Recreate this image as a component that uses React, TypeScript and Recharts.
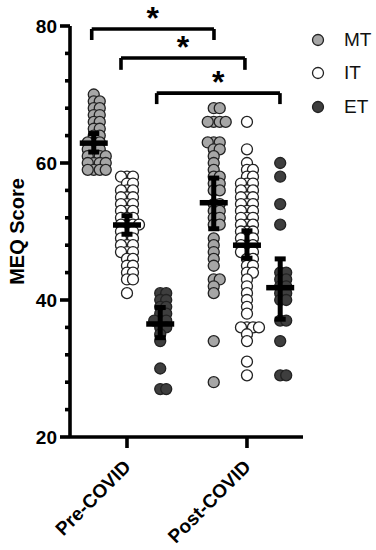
import React from "react";
import {
  ScatterChart,
  Scatter,
  XAxis,
  YAxis,
  ReferenceLine,
  Legend,
} from "recharts";

const periods = ["Pre-COVID", "Post-COVID"];
const groups = ["MT", "IT", "ET"];
const groupFill = ["#a6a6a6", "#ffffff", "#3e3e3e"];
const groupShift = [-0.277, 0, 0.277];

// MEQ scores
const preMT = [70, 69, 69, 68, 68, 67, 67, 66, 66, 65, 65, 64, 64, 63, 63, 63, 62, 62, 62, 61, 61, 61, 61, 60, 60, 60, 60, 59, 59, 59, 59];
const preIT = [58, 58, 58, 57, 57, 56, 56, 56, 55, 55, 55, 54, 54, 54, 53, 53, 53, 52, 52, 52, 51, 51, 51, 51, 50, 50, 50, 49, 49, 49, 48, 48, 48, 47, 47, 47, 46, 46, 45, 45, 44, 44, 43, 43, 41];
const preET = [41, 41, 40, 40, 39, 39, 38, 38, 37, 37, 37, 36, 36, 35, 34, 30, 27, 27];
const postMT = [68, 68, 66, 66, 66, 66, 63, 63, 63, 62, 62, 61, 60, 59, 58, 58, 57, 57, 56, 56, 54, 54, 53, 53, 52, 52, 51, 51, 49, 48, 47, 46, 45, 43, 43, 42, 41, 34, 28];
const postIT = [66, 62, 60, 59, 59, 58, 58, 57, 57, 57, 56, 56, 56, 55, 55, 55, 54, 54, 54, 53, 53, 53, 52, 52, 52, 51, 51, 51, 50, 50, 50, 49, 49, 49, 48, 48, 48, 47, 47, 47, 46, 46, 45, 45, 44, 44, 43, 42, 41, 40, 39, 38, 36, 36, 36, 36, 35, 34, 31, 29];
const postET = [60, 58, 54, 51, 44, 44, 43, 43, 42, 42, 41, 41, 40, 40, 37, 37, 34, 29, 29];

// mean and 95% CI per group
const meanPre = [62.9, 50.95, 36.5];
const meanPost = [54.2, 48.0, 41.8];
const ciLowPre = [61.6, 49.6, 34.5];
const ciHighPre = [64.3, 52.3, 38.9];
const ciLowPost = [50.4, 46.1, 37.2];
const ciHighPost = [57.8, 50.1, 46.0];

// significance brackets: x from, x to, bar y, leg end y
const bracketFrom = [0.706, 0.95, 1.2475];
const bracketTo = [1.725, 1.983, 2.275];
const bracketY = [79.56, 75.33, 70.2];
const bracketLeg = [77.96, 73.6, 68.6];

const scoreTicks = [20, 24, 28, 32, 36, 40, 44, 48, 52, 56, 60, 64, 68, 72, 76, 80];
const xDomain = [0.525, 2.467];
const yDomain = [20, 80];

const FONT = "'Liberation Sans', Arial, sans-serif";
const LINE_W = 3.6;
const PX_X = 120;
const PX_Y = 6.85;
const GAP = 6;

// simple beeswarm so dots with close values sit side by side
function swarm(values: number[], center: number) {
  const placed: { dx: number; py: number }[] = [];
  return values.map((v) => {
    const py = v * PX_Y;
    const near = placed.filter((p) => Math.abs(p.py - py) < GAP);
    const cands = [0];
    near.forEach((p) => {
      const h = Math.sqrt(GAP * GAP - (p.py - py) ** 2);
      cands.push(p.dx + h, p.dx - h);
    });
    cands.sort((a, b) => Math.abs(a) - Math.abs(b));
    const dx =
      cands.find((c) =>
        near.every((p) => (p.dx - c) ** 2 + (p.py - py) ** 2 >= GAP * GAP - 0.01)
      ) ?? 0;
    placed.push({ dx, py });
    return { x: center + dx / PX_X, y: v };
  });
}

const preData = [preMT, preIT, preET];
const postData = [postMT, postIT, postET];

const groupPoints = groups.map((g, i) => [
  ...swarm(preData[i], 1 + groupShift[i]),
  ...swarm(postData[i], 2 + groupShift[i]),
]);

const meanPoints = groups.flatMap((g, i) => [
  { x: 1 + groupShift[i], y: meanPre[i] },
  { x: 2 + groupShift[i], y: meanPost[i] },
]);

// one two-point series per CI whisker
const ciSeries = groups.flatMap((g, i) => [
  [
    { x: 1 + groupShift[i], y: ciLowPre[i] },
    { x: 1 + groupShift[i], y: ciHighPre[i] },
  ],
  [
    { x: 2 + groupShift[i], y: ciLowPost[i] },
    { x: 2 + groupShift[i], y: ciHighPost[i] },
  ],
]);

function ScoreTick(props: any) {
  const { x, y, payload } = props;
  const major = payload.value % 20 === 0;
  return (
    <g>
      <line x1={x - (major ? 10 : 5)} x2={x} y1={y} y2={y} stroke="#000" strokeWidth={LINE_W} />
      {major && (
        <text
          x={x - 13}
          y={y}
          dy={7}
          textAnchor="end"
          fontSize={19}
          fontWeight={700}
          fontFamily={FONT}
          fill="#000"
        >
          {payload.value}
        </text>
      )}
    </g>
  );
}

function PeriodTick(props: any) {
  const { x, y, payload } = props;
  const tx = x + 5;
  const ty = y + 31;
  return (
    <g>
      <line x1={x} x2={x} y1={y} y2={y + 11} stroke="#000" strokeWidth={LINE_W} />
      <text
        x={tx}
        y={ty}
        transform={`rotate(-45 ${tx} ${ty})`}
        textAnchor="end"
        fontSize={19}
        fontWeight={700}
        fontFamily={FONT}
        fill="#000"
      >
        {periods[payload.value - 1]}
      </text>
    </g>
  );
}

function LegendBox() {
  return (
    <div style={{ fontFamily: FONT }}>
      {groups.map((g, i) => (
        <div key={g} style={{ display: "flex", alignItems: "center", height: 33.5 }}>
          <svg width={24} height={14} style={{ marginLeft: 6 }}>
            <circle cx={7} cy={7} r={5.5} fill={groupFill[i]} stroke="#222" strokeWidth={1.3} />
          </svg>
          <span style={{ marginLeft: 9, fontSize: 19, color: "#111" }}>{g}</span>
        </div>
      ))}
    </div>
  );
}

const Dot = (fill: string) => (p: any) => (
  <circle cx={p.cx} cy={p.cy} r={5.5} fill={fill} stroke="#222" strokeWidth={1.3} />
);

const MeanBar = (p: any) => (
  <rect x={p.cx - 14} y={p.cy - 2.75} width={28} height={5.5} fill="#000" />
);

const Cap = (p: any) => (
  <rect x={p.cx - 5.5} y={p.cy - 2.5} width={11} height={5} fill="#000" />
);

export default function App() {
  return (
    <div style={{ width: 376, height: 550, fontFamily: FONT }}>
      <style>{"body{margin:0}"}</style>
      <ScatterChart width={376} height={550} margin={{ top: 26, right: 73, bottom: 0, left: 0 }}>
        <XAxis
          type="number"
          dataKey="x"
          domain={xDomain}
          ticks={[1, 2]}
          interval={0}
          height={113}
          tickSize={0}
          tickMargin={0}
          tickLine={false}
          tick={<PeriodTick />}
          axisLine={false}
        />
        <YAxis
          type="number"
          dataKey="y"
          domain={yDomain}
          ticks={scoreTicks}
          interval={0}
          width={70}
          tickSize={0}
          tickMargin={0}
          tickLine={false}
          tick={<ScoreTick />}
          axisLine={false}
          label={{
            value: "MEQ Score",
            angle: -90,
            position: "insideLeft",
            offset: 17,
            fontSize: 20,
            fontWeight: 700,
            fill: "#000",
            style: { textAnchor: "middle" },
          }}
        />
        {/* thick axis lines */}
        <ReferenceLine
          segment={[
            { x: xDomain[0], y: yDomain[0] },
            { x: xDomain[0], y: yDomain[1] },
          ]}
          stroke="#000"
          strokeWidth={LINE_W}
        />
        <ReferenceLine
          segment={[
            { x: xDomain[0], y: yDomain[0] },
            { x: xDomain[1], y: yDomain[0] },
          ]}
          stroke="#000"
          strokeWidth={LINE_W}
        />
        <Legend
          layout="vertical"
          align="center"
          verticalAlign="middle"
          wrapperStyle={{ left: 305, top: 23, width: 71, height: 101 }}
          content={() => <LegendBox />}
        />
        {groups.map((g, i) => (
          <Scatter
            key={g}
            name={g}
            data={groupPoints[i]}
            fill={groupFill[i]}
            shape={Dot(groupFill[i])}
            isAnimationActive={false}
          />
        ))}
        {ciSeries.map((d, k) => (
          <Scatter
            key={"ci" + k}
            data={d}
            line={{ stroke: "#000", strokeWidth: 5 }}
            lineType="joint"
            shape={Cap}
            legendType="none"
            isAnimationActive={false}
          />
        ))}
        <Scatter data={meanPoints} shape={MeanBar} legendType="none" isAnimationActive={false} />
        {groups.map((g, i) => (
          <ReferenceLine
            key={"b" + i}
            segment={[
              { x: bracketFrom[i], y: bracketY[i] },
              { x: bracketTo[i], y: bracketY[i] },
            ]}
            stroke="#000"
            strokeWidth={LINE_W}
            label={{ value: "*", position: "top", offset: 0, fontSize: 32, fontWeight: 700, fill: "#000" }}
          />
        ))}
        {groups.map((g, i) => (
          <ReferenceLine
            key={"l" + i}
            segment={[
              { x: bracketFrom[i], y: bracketY[i] },
              { x: bracketFrom[i], y: bracketLeg[i] },
            ]}
            stroke="#000"
            strokeWidth={LINE_W}
          />
        ))}
        {groups.map((g, i) => (
          <ReferenceLine
            key={"r" + i}
            segment={[
              { x: bracketTo[i], y: bracketY[i] },
              { x: bracketTo[i], y: bracketLeg[i] },
            ]}
            stroke="#000"
            strokeWidth={LINE_W}
          />
        ))}
      </ScatterChart>
    </div>
  );
}
